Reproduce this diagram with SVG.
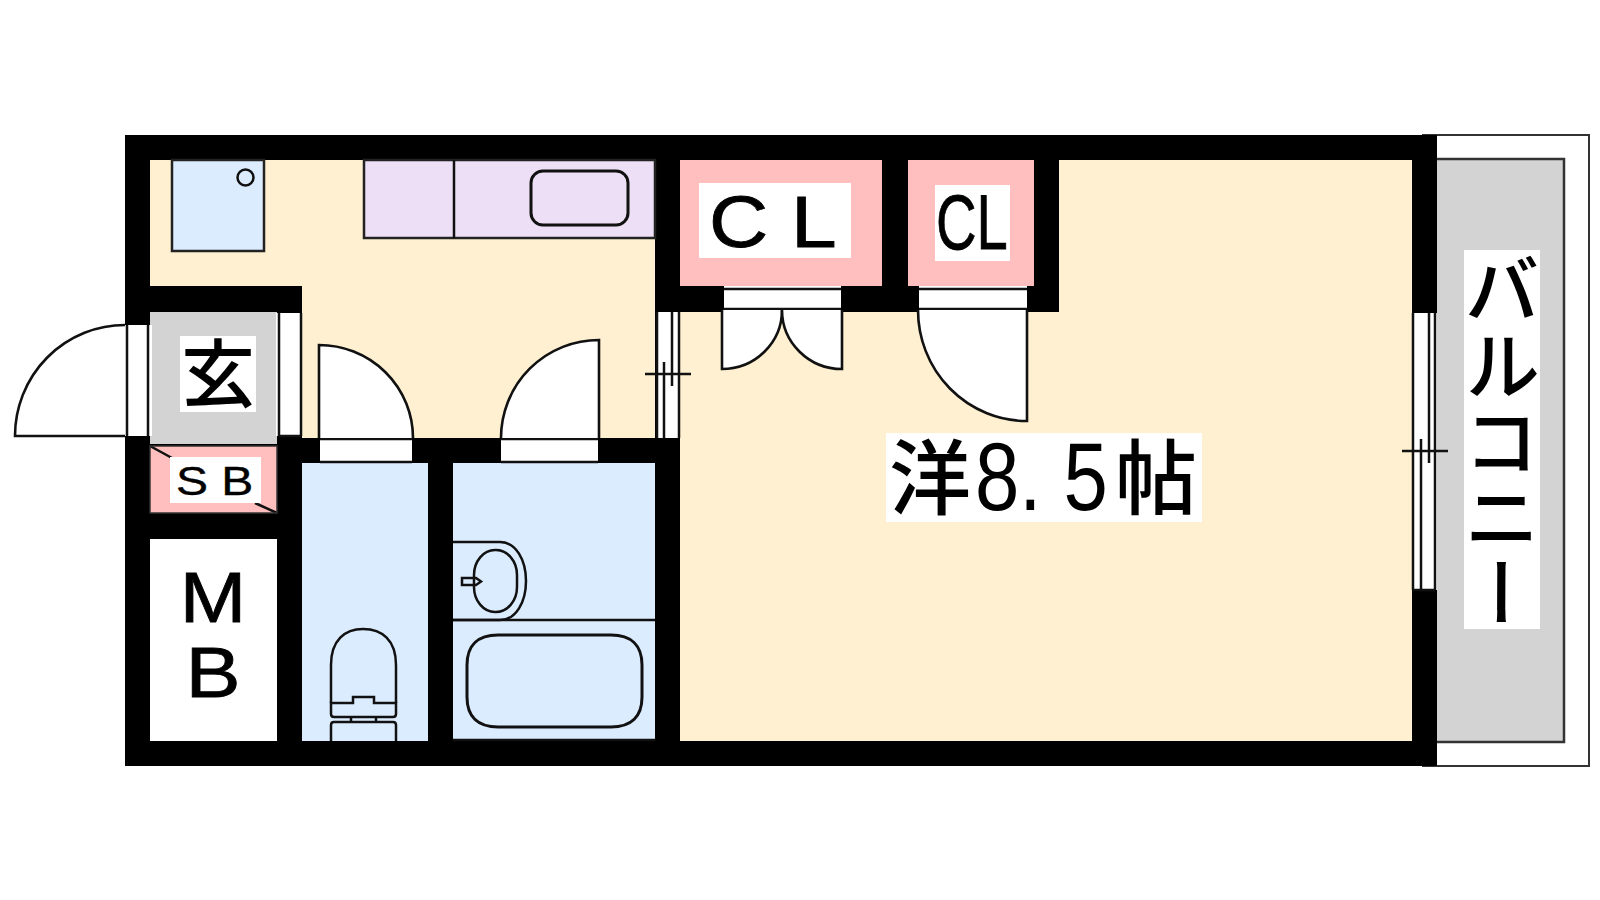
<svg xmlns="http://www.w3.org/2000/svg" width="1600" height="900" viewBox="0 0 1600 900">
<style>
.wall{fill:#000}
.cream{fill:#fef0d1}
.blue{fill:#dcecff}
.pink{fill:#ffbfbf}
.gray{fill:#d3d3d3}
.purple{fill:#eddff5}
.w{fill:#fff}
.ln{fill:none;stroke:#111;stroke-width:2.500}
.th{fill:none;stroke:#111;stroke-width:3}
.fx{fill:#fff;stroke:#111;stroke-width:2.600}
.t{font-family:"Liberation Sans","Noto Sans CJK JP",sans-serif;fill:#000}
.j{font-family:"Noto Sans CJK JP",sans-serif;fill:#000;font-weight:500}
</style>
<rect width="1600" height="900" fill="#fff"/>
<g id="floors">
<rect class="cream" x="150" y="160" width="505" height="278"/>
<rect class="cream" x="680" y="160" width="732" height="581"/>
<rect class="blue" x="302" y="463" width="126" height="278"/>
<rect class="blue" x="453" y="463" width="202" height="278"/>
<rect class="gray" x="150" y="312" width="127" height="132"/>
<rect class="pink" x="150" y="446" width="127" height="67"/>
<rect class="w" x="150" y="539" width="127" height="202"/>
<rect class="pink" x="680" y="160" width="202" height="126"/>
<rect class="pink" x="908" y="160" width="126" height="126"/>
</g>
<g id="balcony">
<rect x="1423" y="135" width="166" height="631" fill="#fff" stroke="#333" stroke-width="2"/>
<rect class="gray" x="1437" y="159" width="127" height="583"/>
<path d="M1437 159H1564V742H1437" fill="none" stroke="#333" stroke-width="2.500"/>
</g>
<g id="walls">
<rect class="wall" x="125" y="135" width="1312" height="25"/>
<rect class="wall" x="125" y="741" width="1312" height="25"/>
<rect class="wall" x="125" y="135" width="25" height="631"/>
<rect class="wall" x="1412" y="135" width="25" height="631"/>
<rect class="wall" x="125" y="286" width="177" height="26"/>
<rect class="wall" x="277" y="286" width="25" height="480"/>
<rect class="wall" x="125" y="513" width="177" height="26"/>
<rect class="wall" x="125" y="444" width="177" height="2"/>
<rect class="wall" x="277" y="438" width="403" height="25"/>
<rect class="wall" x="428" y="438" width="25" height="328"/>
<rect class="wall" x="655" y="135" width="25" height="631"/>
<rect class="wall" x="882" y="135" width="26" height="177"/>
<rect class="wall" x="1034" y="135" width="25" height="177"/>
<rect class="wall" x="655" y="286" width="404" height="26"/>
</g>
<g id="entry-door">
<rect class="w" x="125" y="325" width="27" height="111"/>
<path class="ln" d="M127 325V436M148 325V436"/>
<path class="fx" d="M125 325A110 111 0 0 0 15 436H125" fill="none"/>
</g>
<g id="entry-side-opening">
<rect class="w" x="276" y="313" width="26" height="123"/>
<path class="ln" d="M279 313V436M301 313V436M279 436H301" stroke-width="2"/>
</g>
<g id="fridge">
<rect x="172" y="160" width="92" height="91" class="blue" stroke="#222" stroke-width="2.500"/>
<circle class="ln" cx="245.500" cy="177.500" r="8"/>
</g>
<g id="kitchen">
<rect class="purple" x="364" y="160" width="291" height="78" stroke="#222" stroke-width="2.500"/>
<path class="ln" d="M454 160V238"/>
<rect class="th" x="531" y="171" width="97" height="54" rx="12"/>
</g>
<g id="toilet-door">
<rect class="w" x="320" y="438" width="92" height="25"/>
<path class="ln" d="M320 439H412M320 462H412" stroke-width="2"/>
<path class="fx" d="M319 438V345A94 93 0 0 1 413 438"/>
</g>
<g id="bath-door">
<rect class="w" x="501" y="438" width="97" height="25"/>
<path class="ln" d="M501 439H598M501 462H598" stroke-width="2"/>
<path class="fx" d="M599 438V340A98 98 0 0 0 501 438"/>
</g>
<g id="inner-window">
<rect class="w" x="656" y="312" width="24" height="126"/>
<path class="ln" d="M657 312V438M679 312V438M664 362V438M672 312V386M645 374H691"/>
</g>
<g id="closet-door-1">
<rect class="w" x="724" y="286" width="117" height="25"/>
<path class="ln" d="M724 289H841M724 309H841"/>
<path class="fx" d="M722 310V369A60 59 0 0 0 782 310"/>
<path class="fx" d="M842 310V369A60 59 0 0 1 782 310"/>
</g>
<g id="closet-door-2">
<rect class="w" x="919" y="286" width="108" height="25"/>
<path class="ln" d="M919 289H1027M919 309H1027"/>
<path class="fx" d="M1027 310V421A109 111 0 0 1 918 310"/>
</g>
<g id="balcony-window">
<rect class="w" x="1412" y="313" width="25" height="277"/>
<path class="ln" d="M1413 313V590M1435 313V590M1429 313V463M1421 439V590M1402 451H1448M1413 590H1435"/>
</g>
<g id="sb-marks"><path class="ln" d="M150 446L172 458M255 503L277 513"/><rect x="150" y="446" width="127" height="67" fill="none" stroke="#333" stroke-width="1.500"/></g>
<g id="toilet">
<path class="ln" d="M331 703V665C331 640 345 629 363 629C382 629 396 640 396 665V703"/>
<path class="ln" d="M331 703H353V697H374V703H396V714Q396 717 393 717H334Q331 717 331 714Z"/>
<path class="ln" d="M351 717V722M376 717V722M331 741V725Q331 722 334 722H393Q396 722 396 725V741"/>
</g>
<g id="basin">
<path class="ln" d="M453 542H500C516 542 526 560 526 581C526 602 516 620 500 620H453"/>
<rect class="ln" x="474" y="550" width="43" height="62" rx="21" ry="25"/>
<path class="ln" d="M462 578H476L481 581.500L476 585H462Z"/>
</g>
<g id="bathtub">
<path class="ln" d="M453 620H655M453 740H655"/>
<path class="th" d="M467 665C467 645 478 635 498 635H611C631 635 642 645 642 665V697C642 717 631 727 611 727H498C478 727 467 717 467 697Z"/>
</g>
<g id="labels">
<rect class="w" x="180" y="336" width="76" height="76"/>
<text class="j" x="218" y="401" font-size="74" text-anchor="middle">玄</text>
<rect class="w" x="170" y="457" width="91" height="46"/>
<text class="t" transform="translate(176 495) scale(1.2 1)" font-size="40" stroke="#000" stroke-width=".4">S B</text>
<text class="t" transform="translate(213 622) scale(1.14 1)" font-size="70" text-anchor="middle" stroke="#000" stroke-width=".8">M</text>
<text class="t" transform="translate(213 697) scale(1.18 1)" font-size="70" text-anchor="middle" stroke="#000" stroke-width=".8">B</text>
<rect class="w" x="699" y="183" width="152" height="75"/>
<text class="t" transform="translate(709 247) scale(1.14 1)" font-size="72" stroke="#000" stroke-width=".8">C L</text>
<rect class="w" x="935" y="185" width="75" height="76"/>
<text class="t" transform="translate(936 249) scale(.72 1)" font-size="78" stroke="#000" stroke-width=".8">CL</text>
<rect class="w" x="886" y="433" width="316" height="89"/>
<text class="j" x="889" y="508" font-size="82">洋</text>
<text class="t" transform="translate(975 510) scale(.83 1)" font-size="96">8. 5</text>
<text class="j" x="1115" y="508" font-size="82">帖</text>
<rect class="w" x="1464" y="250" width="76" height="379"/>
<text class="j" x="1502" y="251" font-size="76" style="writing-mode:vertical-rl" text-anchor="start">バルコニー</text>
</g>
</svg>
